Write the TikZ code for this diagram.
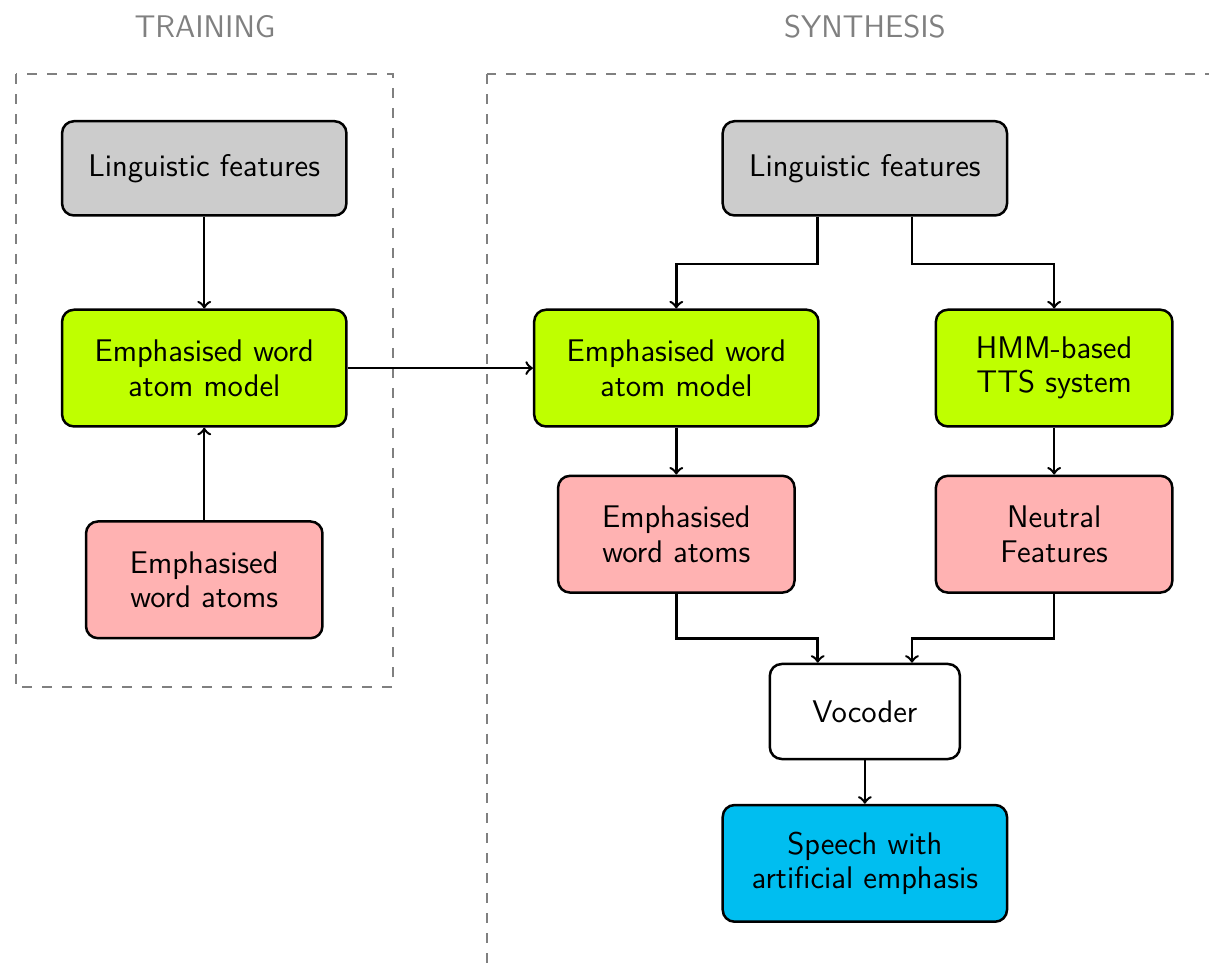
\documentclass[tikz,border=0pt]{standalone}
\usepackage{xcolor}
\usetikzlibrary{arrows}
\usetikzlibrary{calc}

\definecolor{featgray}{RGB}{204,204,204}
\definecolor{modelgreen}{RGB}{191,255,0}
\definecolor{atompink}{RGB}{255,178,178}
\definecolor{speechblue}{RGB}{0,190,240}

\begin{document}
\begin{tikzpicture}[font=\sffamily\fontsize{11.9pt}{13.1pt}\selectfont, >=to, line width=0.95pt,
    block/.style={draw, rounded corners=4.5pt, align=center, inner sep=2pt,
      minimum width=3.8cm, minimum height=1.26cm},
    narrow/.style={minimum width=3.16cm},
    tall/.style={minimum height=1.56cm},
    stage/.style={draw=gray, line width=0.8pt, dash pattern=on 3.8pt off 3.8pt},
    heading/.style={text=gray}]
  \useasboundingbox (0,0) rectangle (16.16,-12.95);

  % the two stages
  \node[heading] (trainhead) at (2.74,-0.36) {TRAINING};
  \node[heading] (synthhead) at (11.56,-0.36) {SYNTHESIS};
  \draw[stage] (0.21,-0.99) rectangle (5.25,-9.18);
  \draw[stage] (6.51,-0.99) rectangle (18,-14);

  % training side
  \node[block, fill=featgray] (lfL) at (2.73,-2.25) {Linguistic features};
  \node[block, tall, fill=modelgreen] (ewamL) at (2.73,-4.92) {Emphasised word\\atom model};
  \node[block, tall, narrow, fill=atompink] (atomsL) at (2.73,-7.75) {Emphasised\\word atoms};

  \draw[->] (lfL) -- (ewamL);
  \draw[->] (atomsL) -- (ewamL);

  % synthesis side
  \node[block, fill=featgray] (lfR) at (11.56,-2.25) {Linguistic features};
  \node[block, tall, fill=modelgreen] (ewamR) at (9.04,-4.92) {Emphasised word\\atom model};
  \node[block, tall, narrow, fill=modelgreen] (hmm) at (14.09,-4.92) {HMM-based\\TTS system};
  \node[block, tall, narrow, fill=atompink] (atomsR) at (9.04,-7.14) {Emphasised\\word atoms};
  \node[block, tall, narrow, fill=atompink] (neutral) at (14.09,-7.14) {Neutral\\Features};
  \node[block, minimum width=2.54cm, minimum height=1.27cm] (voc) at (11.56,-9.51) {Vocoder};
  \node[block, tall, fill=speechblue] (speech) at (11.56,-11.54) {Speech with\\artificial emphasis};

  \draw[->] (ewamL) -- (ewamR);

  \draw[->] ([xshift=-0.63cm]lfR.south) -- ++(0,-0.63) -| (ewamR.north);
  \draw[->] ([xshift=0.63cm]lfR.south) -- ++(0,-0.63) -| (hmm.north);
  \draw[->] (ewamR) -- (atomsR);
  \draw[->] (hmm) -- (neutral);
  \draw[->] (atomsR.south) -- ++(0,-0.6) -| ([xshift=-0.63cm]voc.north);
  \draw[->] (neutral.south) -- ++(0,-0.6) -| ([xshift=0.63cm]voc.north);
  \draw[->] (voc) -- (speech);
\end{tikzpicture}
\end{document}
